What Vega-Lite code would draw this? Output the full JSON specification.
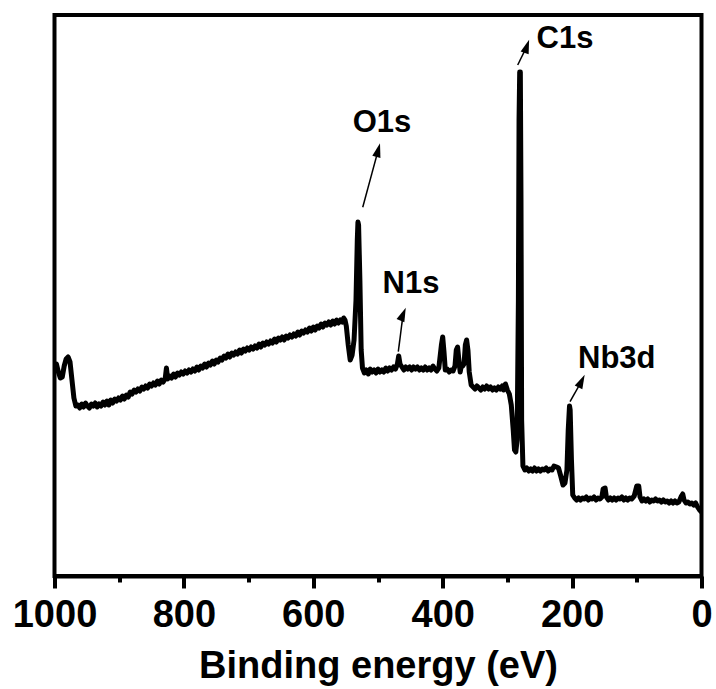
{
  "$schema": "https://vega.github.io/schema/vega-lite/v6.json",
  "width": 647,
  "height": 561,
  "autosize": "none",
  "padding": {"left": 54.5, "top": 15, "right": 14.5, "bottom": 113},
  "background": "white",
  "config": {"view": {"stroke": "black", "strokeWidth": 4}, "font": "Liberation Sans"},
  "datasets": {
    "spectrum": [
      {"be":1000,"i":208},{"be":997,"i":212},{"be":994,"i":204},{"be":991,"i":198},{"be":988,"i":199},{"be":985,"i":210},{"be":982,"i":217},{"be":979,"i":219},{"be":976,"i":214},{"be":973,"i":196},{"be":970,"i":178},{"be":967,"i":170},
      {"be":964,"i":171},{"be":961,"i":168},{"be":958,"i":172},{"be":955,"i":169},{"be":952,"i":173},{"be":949,"i":170},{"be":946,"i":168},{"be":943,"i":172},{"be":940,"i":170},{"be":937,"i":173},{"be":934,"i":169},{"be":931,"i":172},{"be":928,"i":170},{"be":925,"i":174},{"be":922,"i":171},
      {"be":919,"i":175},{"be":916,"i":171},{"be":913,"i":176},{"be":910,"i":173},{"be":907,"i":177},{"be":904,"i":175},{"be":901,"i":178},{"be":898,"i":176},{"be":895,"i":180},{"be":892,"i":177},{"be":889,"i":181},{"be":886,"i":179},{"be":883,"i":184},
      {"be":880,"i":182},{"be":877,"i":186},{"be":874,"i":184},{"be":871,"i":187},{"be":868,"i":185},{"be":865,"i":189},{"be":862,"i":187},{"be":859,"i":190},{"be":856,"i":188},{"be":853,"i":192},{"be":850,"i":190},{"be":847,"i":193},{"be":844,"i":191},{"be":841,"i":195},{"be":838,"i":192},{"be":835,"i":196},{"be":832,"i":194},{"be":829,"i":197},{"be":827,"i":208},{"be":825,"i":197},{"be":822,"i":200},
      {"be":819,"i":198},{"be":816,"i":202},{"be":813,"i":199},{"be":810,"i":203},{"be":807,"i":201},{"be":804,"i":204},{"be":801,"i":202},{"be":798,"i":205},{"be":795,"i":203},{"be":792,"i":206},{"be":789,"i":204},{"be":786,"i":207},{"be":783,"i":205},{"be":780,"i":209},{"be":777,"i":206},{"be":774,"i":210},
      {"be":771,"i":208},{"be":768,"i":212},{"be":765,"i":209},{"be":762,"i":213},{"be":759,"i":211},{"be":756,"i":215},{"be":753,"i":212},{"be":750,"i":216},{"be":747,"i":214},{"be":744,"i":218},{"be":741,"i":216},{"be":738,"i":220},
      {"be":735,"i":218},{"be":732,"i":222},{"be":729,"i":219},{"be":726,"i":223},{"be":723,"i":221},{"be":720,"i":224},{"be":717,"i":222},{"be":714,"i":226},{"be":711,"i":223},{"be":708,"i":227},{"be":705,"i":225},{"be":702,"i":228},{"be":699,"i":226},{"be":696,"i":229},{"be":693,"i":227},{"be":690,"i":230},{"be":687,"i":228},{"be":684,"i":232},{"be":681,"i":229},{"be":678,"i":233},{"be":675,"i":231},{"be":672,"i":234},{"be":669,"i":232},{"be":666,"i":235},{"be":663,"i":233},{"be":660,"i":237},{"be":657,"i":234},{"be":654,"i":238},{"be":651,"i":236},
      {"be":648,"i":239},{"be":645,"i":236},{"be":642,"i":240},{"be":639,"i":238},{"be":636,"i":241},{"be":633,"i":239},{"be":630,"i":242},{"be":627,"i":240},{"be":624,"i":244},{"be":621,"i":241},{"be":618,"i":245},{"be":615,"i":243},{"be":612,"i":246},{"be":609,"i":244},{"be":606,"i":248},{"be":603,"i":245},{"be":600,"i":249},{"be":597,"i":246},{"be":594,"i":250},{"be":591,"i":248},
      {"be":588,"i":252},{"be":585,"i":249},{"be":582,"i":253},{"be":579,"i":251},{"be":576,"i":254},{"be":573,"i":251},{"be":570,"i":255},{"be":567,"i":252},{"be":564,"i":256},{"be":561,"i":253},{"be":558,"i":256},{"be":555,"i":254},{"be":553,"i":258},{"be":551,"i":256},
      {"be":549,"i":250},{"be":546,"i":231},{"be":543,"i":216},{"be":540,"i":221},{"be":537,"i":236},{"be":534,"i":276},{"be":532,"i":336},{"be":531,"i":354},{"be":530,"i":351},{"be":528,"i":296},{"be":526,"i":226},{"be":524,"i":208},{"be":521,"i":203},{"be":518,"i":206},{"be":515,"i":202},{"be":512,"i":207},{"be":509,"i":204},{"be":506,"i":206},{"be":503,"i":203},{"be":500,"i":207},{"be":497,"i":204},{"be":494,"i":206},{"be":491,"i":204},{"be":488,"i":208},{"be":485,"i":205},{"be":482,"i":208},{"be":479,"i":206},{"be":476,"i":209},{"be":473,"i":207},{"be":470,"i":212},{"be":468,"i":220},{"be":466,"i":212},{"be":463,"i":209},{"be":460,"i":206},{"be":457,"i":209},{"be":454,"i":207},{"be":451,"i":209},{"be":448,"i":206},{"be":445,"i":209},{"be":442,"i":207},{"be":439,"i":209},{"be":436,"i":206},{"be":433,"i":208},{"be":430,"i":206},{"be":427,"i":209},{"be":424,"i":206},{"be":421,"i":208},{"be":418,"i":206},{"be":415,"i":210},{"be":412,"i":207},{"be":409,"i":205},{"be":406,"i":208},{"be":402,"i":231},{"be":400,"i":239},{"be":398,"i":224},{"be":396,"i":206},{"be":393,"i":207},{"be":390,"i":204},{"be":387,"i":206},{"be":384,"i":205},{"be":381,"i":210},{"be":379,"i":226},{"be":377,"i":229},{"be":375,"i":216},{"be":373,"i":204},{"be":371,"i":211},{"be":369,"i":210},{"be":367,"i":212},{"be":365,"i":231},{"be":363,"i":236},{"be":361,"i":226},{"be":359,"i":204},{"be":356,"i":191},{"be":353,"i":189},{"be":350,"i":187},{"be":347,"i":190},{"be":344,"i":188},{"be":341,"i":186},{"be":338,"i":189},{"be":335,"i":187},{"be":332,"i":190},{"be":329,"i":187},{"be":326,"i":189},{"be":323,"i":186},{"be":320,"i":188},{"be":317,"i":186},{"be":314,"i":189},{"be":311,"i":187},{"be":308,"i":190},{"be":306,"i":186},{"be":303,"i":192},{"be":300,"i":186},{"be":297,"i":182},{"be":294,"i":171},{"be":291,"i":146},{"be":289,"i":126},{"be":287,"i":124},{"be":285,"i":136},{"be":283,"i":276},{"be":282,"i":456},{"be":281,"i":504},{"be":280,"i":504},{"be":279,"i":376},{"be":278,"i":156},{"be":276,"i":110},{"be":273,"i":106},{"be":270,"i":108},{"be":267,"i":105},{"be":264,"i":107},{"be":261,"i":105},{"be":258,"i":108},{"be":255,"i":105},{"be":252,"i":107},{"be":249,"i":105},{"be":246,"i":107},{"be":243,"i":106},{"be":240,"i":108},{"be":237,"i":105},{"be":234,"i":107},{"be":231,"i":106},{"be":228,"i":110},{"be":224,"i":109},{"be":221,"i":108},{"be":218,"i":101},{"be":214,"i":91},{"be":211,"i":93},{"be":208,"i":106},{"be":206,"i":146},{"be":204,"i":170},{"be":203,"i":166},{"be":201,"i":116},{"be":199,"i":81},{"be":196,"i":78},{"be":193,"i":76},{"be":190,"i":78},{"be":187,"i":76},{"be":184,"i":78},{"be":181,"i":77},{"be":178,"i":79},{"be":175,"i":76},{"be":172,"i":78},{"be":169,"i":77},{"be":166,"i":79},{"be":163,"i":76},{"be":160,"i":78},{"be":157,"i":77},{"be":154,"i":79},{"be":152,"i":87},{"be":149,"i":88},{"be":147,"i":79},{"be":144,"i":76},{"be":141,"i":78},{"be":138,"i":76},{"be":135,"i":78},{"be":132,"i":76},{"be":129,"i":78},{"be":126,"i":77},{"be":123,"i":79},{"be":120,"i":76},{"be":117,"i":78},{"be":114,"i":76},{"be":111,"i":78},{"be":108,"i":77},{"be":104,"i":80},{"be":100,"i":90},{"be":97,"i":90},{"be":95,"i":79},{"be":92,"i":75},{"be":89,"i":77},{"be":86,"i":75},{"be":83,"i":77},{"be":80,"i":74},{"be":77,"i":76},{"be":74,"i":75},{"be":71,"i":77},{"be":68,"i":75},{"be":65,"i":76},{"be":62,"i":74},{"be":59,"i":76},{"be":56,"i":74},{"be":53,"i":75},{"be":50,"i":73},{"be":47,"i":75},{"be":44,"i":73},{"be":41,"i":75},{"be":38,"i":73},{"be":35,"i":74},{"be":31,"i":80},{"be":29,"i":82},{"be":27,"i":76},{"be":24,"i":73},{"be":21,"i":74},{"be":18,"i":72},{"be":15,"i":73},{"be":12,"i":71},{"be":9,"i":73},{"be":6,"i":69},{"be":3,"i":66},{"be":0,"i":64}
    ],
    "arrows": [
      {"label":"O1s","be":523.6,"i":368.7,"be2":499.7,"i2":425.9},
      {"label":"C1s","be":284.1,"i":511,"be2":269.9,"i2":529.7},
      {"label":"N1s","be":468.6,"i":224.3,"be2":461.2,"i2":261.8},
      {"label":"Nb3d","be":203.2,"i":174.3,"be2":185.3,"i2":194.9}
    ],
    "heads": [
      {"label":"O1s","be":499.7,"i":425.9},
      {"label":"C1s","be":269.9,"i":529.7},
      {"label":"N1s","be":461.2,"i":261.8},
      {"label":"Nb3d","be":185.3,"i":194.9}
    ],
    "labels": [
      {"label":"O1s","be":493.8,"i":453},
      {"label":"C1s","be":211,"i":537},
      {"label":"N1s","be":449,"i":292},
      {"label":"Nb3d","be":131,"i":217}
    ]
  },
  "encoding": {
    "x": {
      "field": "be",
      "type": "quantitative",
      "scale": {"domain": [0, 1000], "reverse": true, "nice": false, "zero": false},
      "axis": {
        "title": "Binding energy (eV)",
        "values": [0,100,200,300,400,500,600,700,800,900,1000],
        "format": "d",
        "labelExpr": "datum.value % 200 === 0 ? datum.label : ''",
        "tickSize": {"condition": {"test": "datum.value % 200 === 0", "value": 12}, "value": 6},
        "tickWidth": 4,
        "tickColor": "black",
        "domainColor": "black",
        "domainWidth": 4,
        "grid": false,
        "labelFont": "Liberation Sans",
        "labelFontSize": 38,
        "labelFontWeight": "bold",
        "labelColor": "black",
        "labelPadding": 8,
        "labelFlush": false,
        "labelOverlap": false,
        "titleFont": "Liberation Sans",
        "titleFontSize": 38,
        "titleFontWeight": "bold",
        "titleColor": "black",
        "titlePadding": 13
      }
    },
    "y": {
      "field": "i",
      "type": "quantitative",
      "scale": {"domain": [0, 561], "nice": false, "zero": false},
      "axis": null
    }
  },
  "layer": [
    {
      "data": {"name": "spectrum"},
      "mark": {"type": "line", "color": "black", "strokeWidth": 5, "strokeJoin": "round", "strokeCap": "round", "clip": true}
    },
    {
      "data": {"name": "arrows"},
      "mark": {"type": "rule", "color": "black", "strokeWidth": 1.5},
      "encoding": {
        "x2": {"field": "be2"},
        "y2": {"field": "i2"}
      }
    },
    {
      "data": {"name": "heads"},
      "mark": {"type": "point", "shape": "M0,-1L0.6,1L-0.6,1Z", "filled": true, "color": "black", "opacity": 1, "size": 196, "strokeWidth": 0},
      "encoding": {
        "angle": {
          "field": "label",
          "type": "nominal",
          "scale": {"domain": ["O1s", "C1s", "N1s", "Nb3d"], "range": [15, 26, 7, 29]},
          "legend": null
        }
      }
    },
    {
      "data": {"name": "labels"},
      "mark": {"type": "text", "font": "Liberation Sans", "fontSize": 31, "fontWeight": "bold", "color": "black", "align": "center", "baseline": "middle"},
      "encoding": {
        "text": {"field": "label", "type": "nominal"}
      }
    }
  ]
}
